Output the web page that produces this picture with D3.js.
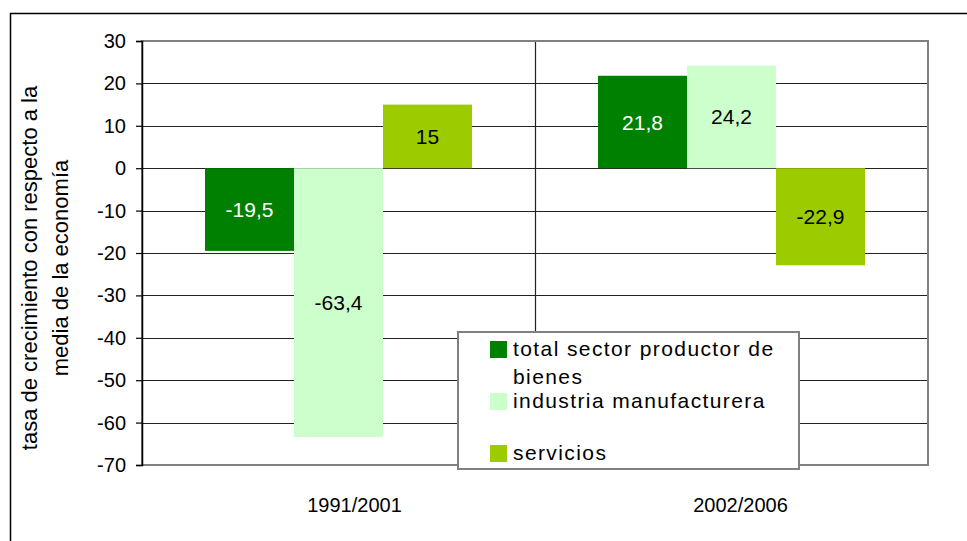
<!DOCTYPE html>
<html>
<head>
<meta charset="utf-8">
<script src="https://cdn.jsdelivr.net/npm/d3@7"></script>
<style>
body { margin: 0; background: #fff; }
text { font-family: "Liberation Sans", Arial, sans-serif; }
</style>
</head>
<body>
<div id="chart"></div>
<script>
var w = 967;
var h = 541;

var categories = ["1991/2001", "2002/2006"];
var series = ["total sector productor de bienes", "industria manufacturera", "servicios"];
var values = [
	[-19.5, -63.4, 15],
	[21.8, 24.2, -22.9]
];
var labels = [
	["-19,5", "-63,4", "15"],
	["21,8", "24,2", "-22,9"]
];
var ticks = [30, 20, 10, 0, -10, -20, -30, -40, -50, -60, -70];
var colors = ["#008000", "#CCFFCC", "#9CCC00"];
var labelColors = ["#fff", "#000", "#000"];

//plot area
var pLeft = 142, pTop = 41, pRight = 928, pBottom = 465;

var svg = d3.select("#chart")
			.append("svg")
			.attr("width", w)
			.attr("height", h);

//outer frame
svg.append("rect")
	.attr("x", 10.5)
	.attr("y", 13.5)
	.attr("width", 1000)
	.attr("height", 600)
	.attr("fill", "#fff")
	.attr("stroke", "#000")
	.attr("stroke-width", 1.5);

var x0 = d3.scaleBand()
			.domain(categories)
			.range([pLeft, pRight]);

var x1 = d3.scaleBand()
			.domain(series)
			.range([63, x0.bandwidth() - 63]);

var y = d3.scaleLinear()
			.domain([-70, 30])
			.range([pBottom, pTop]);

//gridlines
svg.append("g")
	.selectAll("line")
	.data(ticks.slice(1, -1))
	.enter()
	.append("line")
	.attr("x1", pLeft)
	.attr("x2", pRight)
	.attr("y1", function(d) { return Math.round(y(d)) + 0.5; })
	.attr("y2", function(d) { return Math.round(y(d)) + 0.5; })
	.attr("stroke", "#222")
	.attr("stroke-width", 1.2);

//category separator
svg.append("line")
	.attr("x1", x0(categories[1]) + 0.5)
	.attr("x2", x0(categories[1]) + 0.5)
	.attr("y1", pTop)
	.attr("y2", pBottom)
	.attr("stroke", "#222")
	.attr("stroke-width", 1.2);

//bars
var groups = svg.selectAll("g.cat")
				.data(values)
				.enter()
				.append("g")
				.attr("class", "cat")
				.attr("transform", function(d, i) {
					return "translate(" + x0(categories[i]) + ",0)";
				});

groups.selectAll("rect")
	.data(function(d) { return d; })
	.enter()
	.append("rect")
	.attr("x", function(d, i) { return x1(series[i]); })
	.attr("width", x1.bandwidth())
	.attr("y", function(d) { return y(Math.max(0, d)); })
	.attr("height", function(d) { return Math.abs(y(d) - y(0)); })
	.attr("fill", function(d, i) { return colors[i]; });

groups.selectAll("text")
	.data(function(d, j) { return d.map(function(v, i) { return { v: v, t: labels[j][i] }; }); })
	.enter()
	.append("text")
	.attr("x", function(d, i) { return x1(series[i]) + x1.bandwidth() / 2; })
	.attr("y", function(d) { return (y(d.v) + y(0)) / 2; })
	.attr("dy", "0.36em")
	.attr("text-anchor", "middle")
	.attr("font-size", 21)
	.attr("fill", function(d, i) { return labelColors[i]; })
	.text(function(d) { return d.t; });

//plot border
svg.append("rect")
	.attr("x", pLeft)
	.attr("y", pTop)
	.attr("width", pRight - pLeft)
	.attr("height", pBottom - pTop)
	.attr("fill", "none")
	.attr("stroke", "#808080")
	.attr("stroke-width", 2);

//y axis
var yAxis = d3.axisLeft(y)
			.tickValues(ticks)
			.tickSize(6)
			.tickPadding(10)
			.tickFormat(d3.format("d"));

var gy = svg.append("g")
			.attr("transform", "translate(" + pLeft + ",0)")
			.call(yAxis);
gy.select(".domain").attr("stroke", "#000").attr("stroke-width", 1.5);
gy.selectAll(".tick line").attr("stroke", "#000").attr("stroke-width", 1.2);
gy.selectAll(".tick text")
	.attr("font-size", 20)
	.attr("font-family", "Liberation Sans, Arial, sans-serif")
	.attr("fill", "#000")
	.text(function(d) { return d < 0 ? "-" + Math.abs(d) : d; });

//category labels
svg.append("g")
	.selectAll("text")
	.data(categories)
	.enter()
	.append("text")
	.attr("x", function(d, i) { return x0(d) + x0.bandwidth() / 2 + (i == 0 ? 16 : 9); })
	.attr("y", 512)
	.attr("text-anchor", "middle")
	.attr("font-size", 20)
	.text(function(d) { return d; });

//y title
var yt = svg.append("text")
			.attr("transform", "translate(37,268) rotate(-90)")
			.attr("text-anchor", "middle")
			.attr("font-size", 22);
yt.append("tspan").attr("x", 0).attr("y", 0).text("tasa de crecimiento con respecto a la");
yt.append("tspan").attr("x", 0).attr("y", 31).text("media de la economía");

//legend
var legend = svg.append("g")
				.attr("transform", "translate(458,332)");

legend.append("rect")
	.attr("width", 341)
	.attr("height", 137)
	.attr("fill", "#fff")
	.attr("stroke", "#808080")
	.attr("stroke-width", 2);

var swatchY = [9, 61, 113];
legend.selectAll("rect.sw")
	.data(series)
	.enter()
	.append("rect")
	.attr("class", "sw")
	.attr("x", 32)
	.attr("y", function(d, i) { return swatchY[i]; })
	.attr("width", 17)
	.attr("height", 17)
	.attr("fill", function(d, i) { return colors[i]; });

var legendLines = [["total sector productor de", "bienes"], ["industria manufacturera"], ["servicios"]];
var lt = legend.selectAll("text")
	.data(legendLines)
	.enter()
	.append("text")
	.attr("x", 55)
	.attr("y", function(d, i) { return swatchY[i] + 15; })
	.attr("font-size", 21)
	.attr("letter-spacing", 1.4);
lt.selectAll("tspan")
	.data(function(d) { return d; })
	.enter()
	.append("tspan")
	.attr("x", 55)
	.attr("dy", function(d, i) { return i == 0 ? 0 : 28; })
	.text(function(d) { return d; });
</script>
</body>
</html>
